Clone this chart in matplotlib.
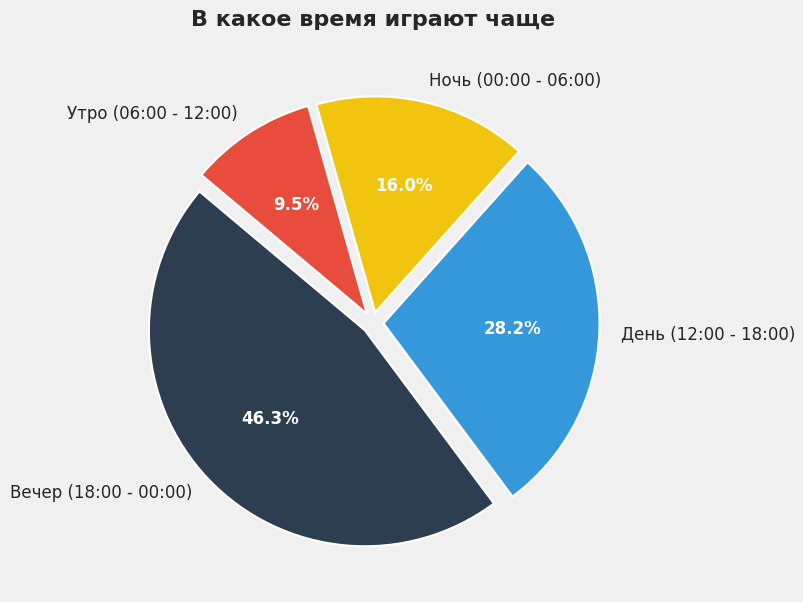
import matplotlib.pyplot as plt

# data
labels = ['Вечер (18:00 - 00:00)', 'День (12:00 - 18:00)', 'Ночь (00:00 - 06:00)', 'Утро (06:00 - 12:00)']
shares = [46.3, 28.2, 16.0, 9.5]
colors = ['#2c3e50', '#3498db', '#f1c40f', '#e74c3c']
explode = [0.05, 0.05, 0.05, 0.05]

bg = '#f0f0f0'
fig = plt.figure(figsize=(8.04, 6.02), dpi=100, facecolor=bg)
ax = fig.add_axes([0.1276, 0.0152, 0.672, 0.897])
ax.set_facecolor(bg)

wedges, texts, autotexts = ax.pie(shares, labels=labels, colors=colors, explode=explode,
                                  startangle=140, autopct='%1.1f%%', pctdistance=0.6,
                                  wedgeprops={'edgecolor': 'white', 'linewidth': 1.5},
                                  textprops={'fontsize': 12, 'color': '#262626'})
for t in autotexts:
    t.set_color('white')
    t.set_fontweight('bold')
ax.set_aspect('equal')

fig.text(0.4635, 1 - 20 / 602, 'В какое время играют чаще', ha='center', va='center',
         fontsize=16, fontweight='bold', color='#262626')

fig.savefig('out.png', dpi=100, facecolor=bg)
